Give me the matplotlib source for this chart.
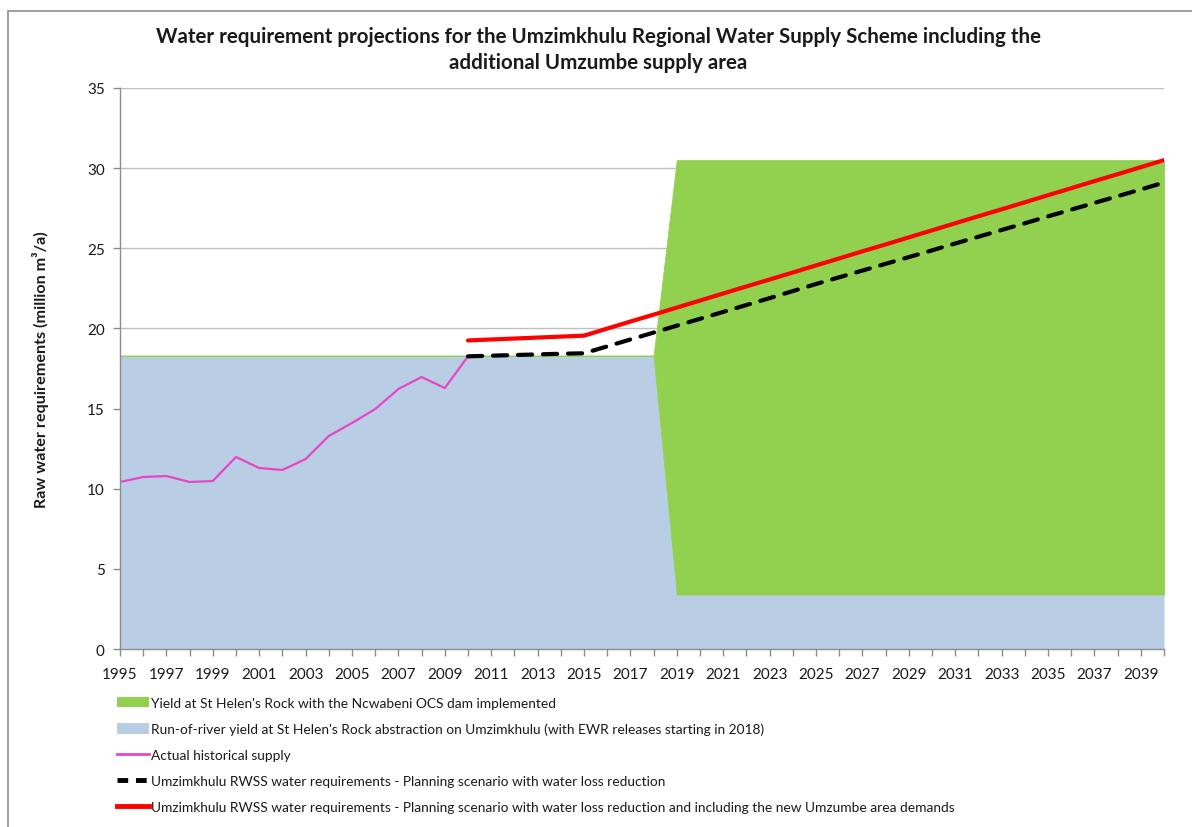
import matplotlib
matplotlib.use("Agg")
import matplotlib.pyplot as plt
from matplotlib.patches import Rectangle, Patch
from matplotlib.lines import Line2D

plt.rcParams['font.family'] = ['Lato', 'DejaVu Sans']

# ---- data -------------------------------------------------------------
years = list(range(1995, 2041))

# Run-of-river yield (EWR releases start in 2018)
run_of_river = [18.3] * 24 + [3.4] * 22            # 1995-2018, 2019-2040
# Additional yield from the Ncwabeni OCS dam (stacked on run-of-river)
dam_extra = [0.0] * 24 + [27.1] * 22

hist_years = list(range(1995, 2011))
hist_supply = [10.42, 10.73, 10.79, 10.42, 10.48, 11.98, 11.29, 11.17,
               11.85, 13.29, 14.10, 14.97, 16.22, 16.97, 16.28, 18.26]

proj_years = list(range(2010, 2041))
req_wlr = [18.26, 18.30, 18.34, 18.38, 18.42, 18.45, 18.88, 19.31, 19.74,
           20.17, 20.60, 21.03, 21.46, 21.89, 22.33, 22.77, 23.19, 23.61,
           24.03, 24.45, 24.87, 25.30, 25.72, 26.14, 26.56, 26.99, 27.41,
           27.83, 28.25, 28.67, 29.10]
req_umzumbe = [19.25, 19.31, 19.37, 19.43, 19.49, 19.55, 19.99, 20.43, 20.86,
               21.30, 21.74, 22.18, 22.62, 23.05, 23.49, 23.93, 24.37, 24.81,
               25.24, 25.68, 26.12, 26.56, 27.00, 27.43, 27.87, 28.31, 28.75,
               29.19, 29.62, 30.06, 30.50]

labels = [
    "Yield at St Helen's Rock with the Ncwabeni OCS dam implemented",
    "Run-of-river yield at St Helen's Rock abstraction on Umzimkhulu (with EWR releases starting in 2018)",
    "Actual historical supply",
    "Umzimkhulu RWSS water requirements - Planning scenario with water loss reduction",
    "Umzimkhulu RWSS water requirements - Planning scenario with water loss reduction and including the new Umzumbe area demands",
]
title = ("Water requirement projections for the Umzimkhulu Regional Water Supply Scheme including the\n"
         "additional Umzumbe supply area")
ylabel = "Raw water requirements (million m\u00b3/a)"

GREEN = "#92D050"
BLUE = "#B9CDE5"
PINK = "#E846C8"
RED = "#FF0000"
GRID = "#BFBFBF"
AXIS = "#8C8C8C"
TEXT = "#1A1A1A"

# ---- figure -----------------------------------------------------------
W, H = 1192, 828
fig = plt.figure(figsize=(W / 100, H / 100), dpi=100)
fig.patch.set_facecolor("white")

# chart-area border (runs off the right and bottom of the image)
fig.add_artist(Rectangle((8 / W, -0.05), 1.1, 1 - 12 / H + 0.05,
                         transform=fig.transFigure, fill=False,
                         edgecolor="#8F8F8F", linewidth=1.2, clip_on=False))

ax = fig.add_axes([120 / W, 1 - 650 / H, 1044 / W, 561 / H])

top_stack = [a + b for a, b in zip(run_of_river, dam_extra)]
ax.fill_between(years, 0, run_of_river, color=BLUE, linewidth=0, zorder=1)
ax.fill_between(years, run_of_river, top_stack, color=GREEN,
                edgecolor=GREEN, linewidth=0.6, zorder=1)

ax.plot(hist_years, hist_supply, color=PINK, linewidth=1.6, zorder=3)
dash_line, = ax.plot(proj_years, req_wlr, color="black", linewidth=3.0,
                     zorder=4, dash_capstyle="round")
dash_line.set_dashes((3.4, 2.6))
ax.plot(proj_years, req_umzumbe, color=RED, linewidth=3.0, zorder=5,
        solid_capstyle="round")

ax.set_xlim(1995, 2040)
ax.set_ylim(0, 35)
ax.set_yticks(range(0, 36, 5))
ax.set_xticks(years)
ax.set_xticklabels([str(y) if (y - 1995) % 2 == 0 and y < 2040 else "" for y in years])
ax.grid(axis="y", color=GRID, linewidth=1.0, zorder=0)
ax.set_axisbelow(True)

for side in ("top", "right"):
    ax.spines[side].set_visible(False)
for side in ("left", "bottom"):
    ax.spines[side].set_color(AXIS)
    ax.spines[side].set_linewidth(1.0)
    ax.spines[side].set_zorder(6)

ax.tick_params(axis="both", direction="out", length=5, width=1.0,
               color=AXIS, labelcolor=TEXT, labelsize=11)
ax.tick_params(axis="x", pad=8)
ax.tick_params(axis="y", pad=6)

ax.set_ylabel(ylabel, fontsize=11.6, fontweight="bold", color=TEXT,
              labelpad=27)
fig.text(598 / W, 1 - 50 / H, title, ha="center", va="center",
         fontsize=14.8, fontweight="bold", color=TEXT, linespacing=1.4)

handles = [
    Patch(facecolor=GREEN, edgecolor="none"),
    Patch(facecolor=BLUE, edgecolor="none"),
    Line2D([], [], color=PINK, linewidth=2.0),
    Line2D([], [], color="black", linewidth=3.5, dashes=(2.2, 1.6)),
    Line2D([], [], color=RED, linewidth=3.5),
]
leg = fig.legend(handles, labels, loc="upper left",
                 bbox_to_anchor=(117 / W, 1 - 698 / H),
                 frameon=False, fontsize=9.9, handlelength=2.3,
                 handleheight=0.75, handletextpad=0.15, labelspacing=1.0,
                 borderaxespad=0, borderpad=0)
for t in leg.get_texts():
    t.set_color(TEXT)

fig.savefig("out.png", dpi=100, facecolor="white")
